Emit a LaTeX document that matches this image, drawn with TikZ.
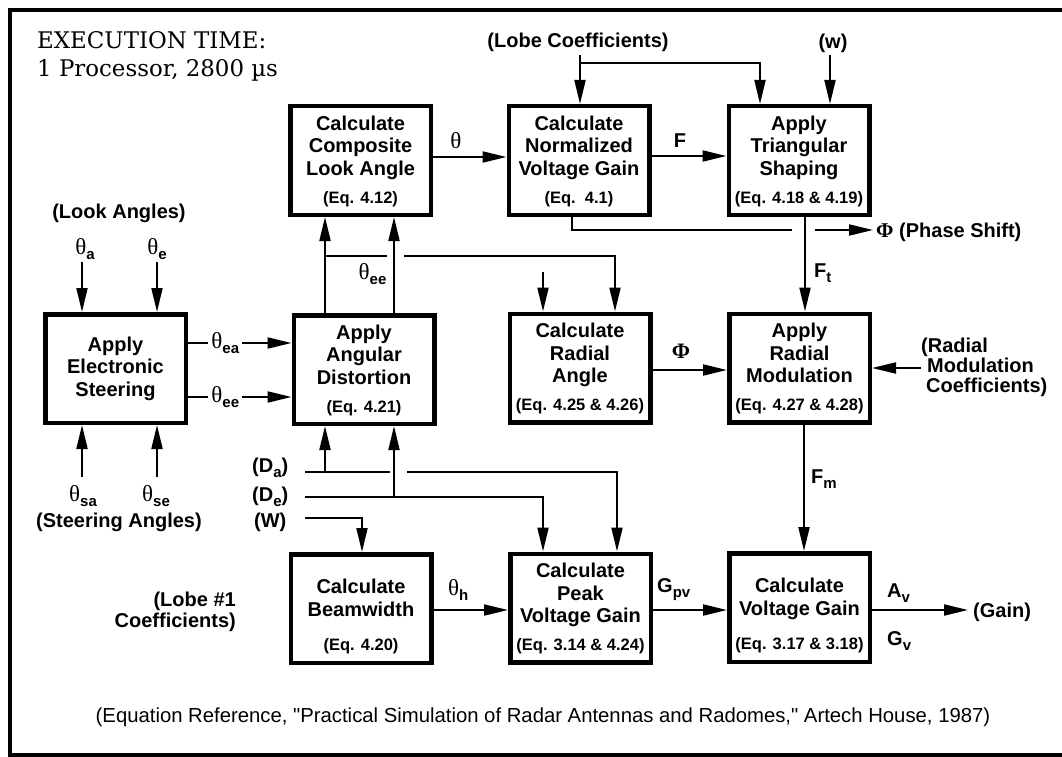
\documentclass[tikz,border=0pt]{standalone}
\usepackage{fontspec}
\usetikzlibrary{arrows.meta}
\newfontfamily\hv{Liberation Sans}
\newfontfamily\ser{Liberation Serif}
\newfontfamily\dvs{DejaVu Serif}
\newcommand\boxf{\hv\bfseries\fontsize{20}{22.5}\selectfont}
\newcommand\eqf{\hv\fontsize{16.5}{19}\selectfont}
\newcommand\lblf{\hv\bfseries\fontsize{20}{21}\selectfont}
\newcommand\thf{\ser\mdseries\fontsize{23}{24}\selectfont}
\newcommand\sbx[1]{\raisebox{-5pt}{\hv\bfseries\fontsize{15}{18}\selectfont #1}}
\newcommand\thx[1]{{\thf θ}\sbx{#1}}
\newcommand\execf{\dvs\fontsize{22.9}{28}\selectfont}
\newcommand\topst[1]{\rule{0pt}{#1}}
\newcommand\eqln[1]{{\eqf #1\rule[-9pt]{0pt}{9pt}}}
\tikzset{
  box/.style={draw, line width=4.5pt, minimum width=140.5pt, minimum height=108.5pt,
    inner sep=0pt, align=center, font=\boxf},
  wire/.style={line width=2pt},
  arr/.style={wire, -{Triangle[length=24pt,width=11pt]}},
  lbl/.style={font=\lblf, inner sep=0pt},
}
\begin{document}
\begin{tikzpicture}[x=1pt,y=-1pt]
\useasboundingbox (0,0) rectangle (1062,757);
\draw[line width=4.5pt] (1062,10) -- (10,10) -- (10,755) -- (1062,755);

% execution time
\node[anchor=base west, font=\execf, inner sep=0pt] (ex1) at (37,49) {EXECUTION TIME:};
\node[anchor=base west, font=\execf, inner sep=0pt] (ex2) at (37,77) {1 Processor, 2800 µs};

% boxes
\node[box] (CCLA) at (360.5,160.5) {\topst{21pt}Calculate\\Composite\\Look Angle\\[5.5pt]\eqln{(Eq. 4.12)}};
\node[box] (CNVG) at (579,160.5) {\topst{21pt}Calculate\\Normalized\\Voltage Gain\\[5.5pt]\eqln{(Eq.\ \ 4.1)}};
\node[box] (ATS) at (799,160.5) {\topst{21pt}Apply\\Triangular\\Shaping\\[5.5pt]\eqln{(Eq. 4.18 \& 4.19)}};
\node[box] (AES) at (115.5,368.5) {Apply\\Electronic\\Steering};
\node[box] (AAD) at (364,369.5) {\topst{21pt}Apply\\Angular\\Distortion\\[5.5pt]\eqln{(Eq. 4.21)}};
\node[box] (CRA) at (580,368) {\topst{21pt}Calculate\\Radial\\Angle\\[5.5pt]\eqln{(Eq. 4.25 \& 4.26)}};
\node[box] (ARM) at (799.5,368) {\topst{21pt}Apply\\Radial\\Modulation\\[5.5pt]\eqln{(Eq. 4.27 \& 4.28)}};
\node[box] (CB) at (361,608.5) {\topst{36.5pt}Calculate\\Beamwidth\\[12pt]\eqln{(Eq. 4.20)}};
\node[box] (CPVG) at (580.5,608) {\topst{21pt}Calculate\\Peak\\Voltage Gain\\[5.5pt]\eqln{(Eq. 3.14 \& 4.24)}};
\node[box] (CVG) at (799.5,607.5) {\topst{36.5pt}Calculate\\Voltage Gain\\[12pt]\eqln{(Eq. 3.17 \& 3.18)}};

% look angles
\node[lbl] (look) at (119,213) {(Look Angles)};
\node[lbl, anchor=base] (tha) at (85,254) {\thx{a}};
\node[lbl, anchor=base] (the) at (157,254) {\thx{e}};
\coordinate (ta) at (82,262);
\coordinate (te) at (157,262);
\draw[arr] (ta) -- (AES.north -| ta);
\draw[arr] (te) -- (AES.north -| te);

% steering angles
\coordinate (tsa) at (82,477);
\coordinate (tse) at (157,477);
\draw[arr] (tsa) -- (AES.south -| tsa);
\draw[arr] (tse) -- (AES.south -| tse);
\node[lbl, anchor=base] (thsa) at (83,501) {\thx{sa}};
\node[lbl, anchor=base] (thse) at (156,501) {\thx{se}};
\node[lbl] (steer) at (119,522) {(Steering Angles)};

% AES -> AAD
\draw[arr] (AES.east |- 0,343) -- node[pos=0.36, lbl, fill=white, inner xsep=3pt] (lea) {\thx{ea}} (AAD.west |- 0,343);
\draw[arr] (AES.east |- 0,397) -- node[pos=0.36, lbl, fill=white, inner xsep=3pt] (lee) {\thx{ee}} (AAD.west |- 0,397);

% AAD -> CCLA
\coordinate (v1) at (325,256);
\coordinate (v2) at (394,256);
\draw[arr] (AAD.north -| v1) -- (CCLA.south -| v1);
\draw[arr] (AAD.north -| v2) -- (CCLA.south -| v2);
\node[lbl, anchor=base] (thee) at (372.5,279) {\thx{ee}};
\coordinate (h1a) at (387,256);
\coordinate (h1b) at (404,256);
\coordinate (h1c) at (615,256);
\draw[wire] (v1) -- (h1a);
\draw[arr] (h1b) -- (h1c) -- (CRA.north -| h1c);
\coordinate (dang) at (543,272);
\draw[arr] (dang) -- (CRA.north -| dang);

% lobe coefficients
\node[lbl] (lobe) at (578,42) {(Lobe Coefficients)};
\coordinate (lc) at (580,55);
\coordinate (lcb) at (580,63);
\coordinate (lcc) at (760,63);
\draw[arr] (lc) -- (CNVG.north -| lc);
\draw[arr] (lcb) -- (lcc) -- (ATS.north -| lcc);
\node[lbl] (w) at (833,43) {(w)};
\coordinate (wc) at (830,55);
\draw[arr] (wc) -- (ATS.north -| wc);

% theta, F
\draw[arr] (CCLA.east |- 0,157) -- (CNVG.west |- 0,157);
\node[lbl, anchor=base] (lth) at (456,149) {{\thf θ}};
\draw[arr] (CNVG.east |- 0,156) -- (ATS.west |- 0,156);
\node[lbl, anchor=base] (lF) at (680,147) {F};

% phase shift
\coordinate (p0) at (572,230);
\coordinate (p1) at (792,230);
\coordinate (p2) at (815,230);
\coordinate (p3) at (873,230);
\draw[wire] (CNVG.south -| p0) -- (p0) -- (p1);
\draw[arr] (p2) -- (p3);
\node[lbl, anchor=base west] (phs) at (876,237) {{\ser\bfseries\fontsize{21}{22}\selectfont Φ} (Phase Shift)};

% Ft
\coordinate (ft) at (805,0);
\draw[arr] (ATS.south -| ft) -- (ARM.north -| ft);
\node[lbl, anchor=base west] (lFt) at (814,277) {F\sbx{t}};

% Phi
\draw[arr] (CRA.east |- 0,370) -- (ARM.west |- 0,370);
\node[lbl, anchor=base] (lPhi) at (681,358) {{\ser\bfseries\fontsize{22}{22}\selectfont Φ}};

% radial modulation coefficients
\node[lbl, align=left, anchor=west, font=\hv\bfseries\fontsize{20}{20}\selectfont] (rmc) at (921,367) {(Radial\\\hspace*{6pt}Modulation\\\hspace*{5pt}Coefficients)};
\coordinate (rmcA) at (921,368);
\draw[arr] (rmcA) -- (ARM.east |- rmcA);

% Fm
\coordinate (fm) at (804,0);
\draw[arr] (ARM.south -| fm) -- (CVG.north -| fm);
\node[lbl, anchor=base west] (lFm) at (811,483) {F\sbx{m}};

% Da, De, W
\node[lbl, anchor=west] (Da) at (252,468) {(D\sbx{a})};
\node[lbl, anchor=west] (De) at (252,497) {(D\sbx{e})};
\node[lbl, anchor=west] (W) at (254,522) {(W)};
\coordinate (da0) at (305,472);
\coordinate (da1) at (390,472);
\coordinate (da2) at (407,472);
\coordinate (da3) at (617,472);
\coordinate (daB) at (325,472);
\draw[wire] (da0) -- (da1);
\draw[arr] (da2) -- (da3) -- (CPVG.north -| da3);
\draw[arr] (daB) -- (AAD.south -| daB);
\coordinate (de0) at (305,497);
\coordinate (de1) at (543,497);
\coordinate (deB) at (394,497);
\draw[arr] (de0) -- (de1) -- (CPVG.north -| de1);
\draw[arr] (deB) -- (AAD.south -| deB);
\coordinate (w0) at (305,518);
\coordinate (w1) at (362,518);
\draw[arr] (w0) -- (w1) -- (CB.north -| w1);

% bottom row
\node[lbl, align=right, anchor=east] (lobe1) at (236,612) {(Lobe \#1\\Coefficients)};
\draw[arr] (CB.east |- 0,610) -- (CPVG.west |- 0,610);
\node[lbl, anchor=base west] (lthh) at (448,595) {\thx{h}};
\draw[arr] (CPVG.east |- 0,610) -- (CVG.west |- 0,610);
\node[lbl, anchor=base west] (lGpv) at (657,592) {G\sbx{pv}};
\coordinate (gain) at (968,610);
\draw[arr] (CVG.east |- gain) -- (gain);
\node[lbl, anchor=base west] (gainl) at (973,617) {(Gain)};
\node[lbl, anchor=base west] (lAv) at (887,597) {A\sbx{v}};
\node[lbl, anchor=base west] (lGv) at (887,645) {G\sbx{v}};

% reference
\node[font=\hv\fontsize{20.3}{22}\selectfont, inner sep=0pt] (ref) at (543,717) {(Equation Reference, "Practical Simulation of Radar Antennas and Radomes," Artech House, 1987)};
\end{tikzpicture}
\end{document}
